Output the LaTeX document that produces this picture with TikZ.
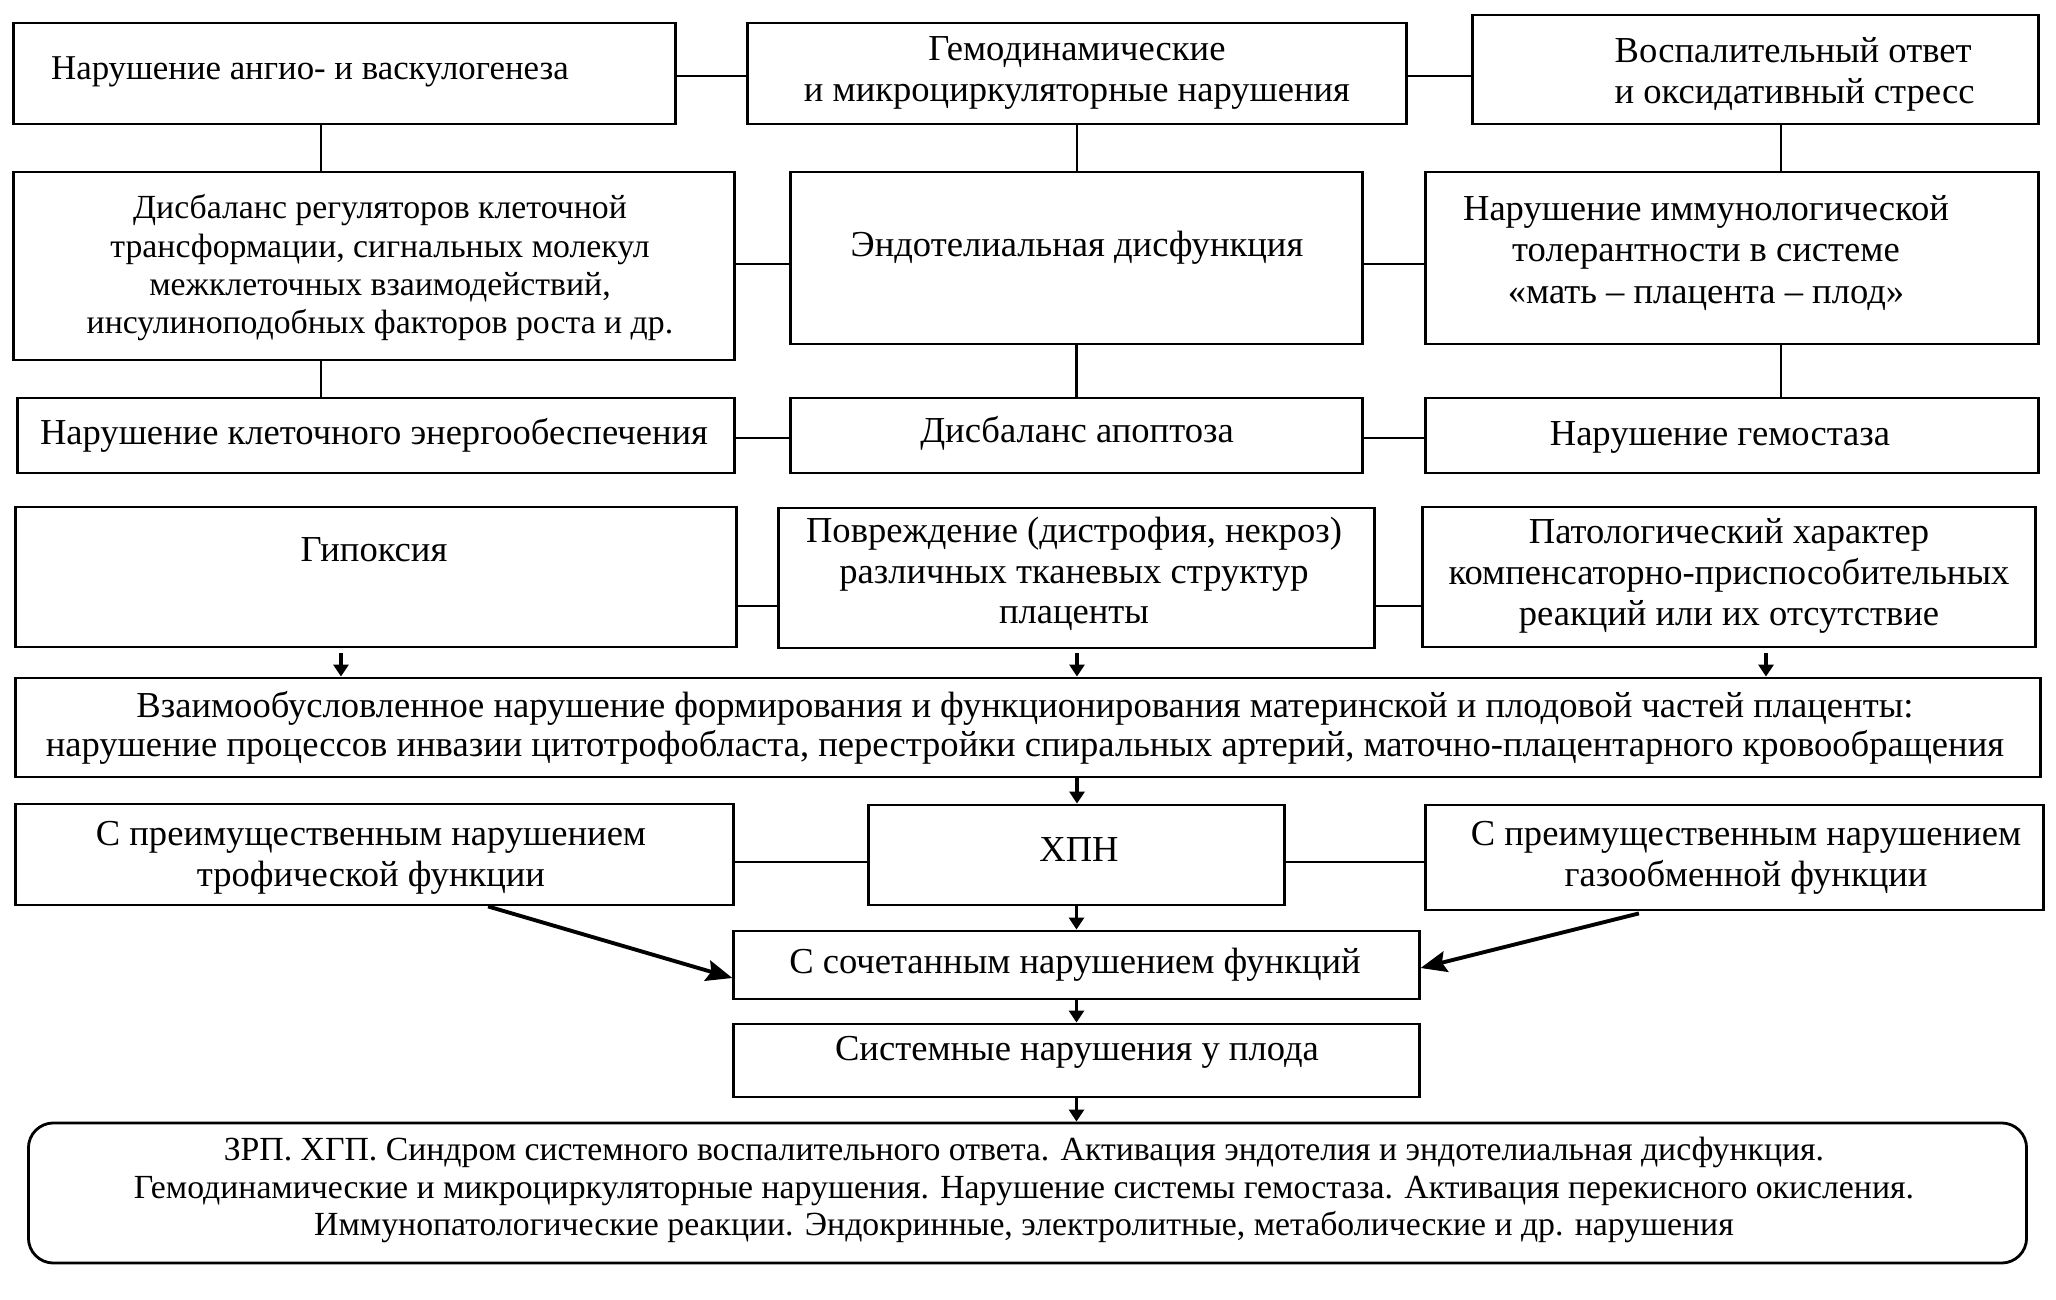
\documentclass[tikz,border=0pt]{standalone}
\usepackage{fontspec}
\setmainfont{Liberation Serif}
\usetikzlibrary{arrows.meta,calc}
\begin{document}
\begin{tikzpicture}[x=0.01cm,y=-0.01cm,
  box/.style={draw, line width=0.8pt, rectangle, inner sep=0pt},
  txt/.style={align=center, inner sep=0pt, font=\fontsize{10.4}{11.2}\selectfont},
  conn/.style={line width=0.8pt},
  arr/.style={line width=1.1pt, -{Triangle[length=0.12cm,width=0.15cm]}},
  bigarr/.style={line width=1.1pt, -{Stealth[length=0.26cm,width=0.21cm,inset=0.04cm]}}]
\useasboundingbox (0,0) rectangle (2056,1300);

% row 1
\node[box, minimum width=6.61cm, minimum height=1.01cm] (A) at (344.5,73.5) {};
\node[box, minimum width=6.58cm, minimum height=1.01cm] (B) at (1077,73.5) {};
\node[box, minimum width=5.65cm, minimum height=1.09cm] (C) at (1755.5,69.5) {};
\node[txt, font=\fontsize{9.9}{11.2}\selectfont] (At) at (310,72) {Нарушение ангио- и васкулогенеза};
\node[txt, font=\fontsize{10.4}{11.6}\selectfont] (Bt) at (1077,73) {Гемодинамические\\и микроциркуляторные нарушения};
\node[txt, align=left, anchor=west, font=\fontsize{10.4}{11.6}\selectfont] (Ct) at (1614,74) {Воспалительный ответ\\и оксидативный стресс};

% row 2
\node[box, minimum width=7.20cm, minimum height=1.88cm] (D) at (374,266) {};
\node[box, minimum width=5.71cm, minimum height=1.72cm] (E) at (1076.5,258) {};
\node[box, minimum width=6.12cm, minimum height=1.72cm] (F) at (1732,258) {};
\node[txt, font=\fontsize{9.6}{10.9}\selectfont] (Dt) at (380,268) {Дисбаланс регуляторов клеточной\\трансформации, сигнальных молекул\\межклеточных взаимодействий,\\инсулиноподобных факторов роста и др.};
\node[txt] (Et) at (1077,248) {Эндотелиальная дисфункция};
\node[txt, font=\fontsize{10.4}{11.8}\selectfont] (Ft) at (1706,253) {Нарушение иммунологической\\толерантности в системе\\«мать – плацента – плод»};

% row 3
\node[box, minimum width=7.16cm, minimum height=0.75cm] (G) at (376,435.5) {};
\node[box, minimum width=5.71cm, minimum height=0.75cm] (H) at (1076.5,435.5) {};
\node[box, minimum width=6.12cm, minimum height=0.75cm] (I) at (1732,435.5) {};
\node[txt] (Gt) at (374,435) {Нарушение клеточного энергообеспечения};
\node[txt] (Ht) at (1077,433) {Дисбаланс апоптоза};
\node[txt] (It) at (1720,437) {Нарушение гемостаза};

% row 4
\node[box, minimum width=7.20cm, minimum height=1.40cm] (J) at (376,577) {};
\node[box, minimum width=5.95cm, minimum height=1.40cm] (K) at (1076.5,578) {};
\node[box, minimum width=6.12cm, minimum height=1.40cm] (L) at (1729,577) {};
\node[txt] (Jt) at (374,550) {Гипоксия};
\node[txt, font=\fontsize{10.4}{11.6}\selectfont] (Kt) at (1074,574) {Повреждение (дистрофия, некроз)\\различных тканевых структур\\плаценты};
\node[txt, font=\fontsize{10.4}{11.6}\selectfont] (Lt) at (1729,576) {Патологический характер\\компенсаторно-приспособительных\\реакций или их отсутствие};

% row 5
\node[box, minimum width=20.24cm, minimum height=0.99cm] (M) at (1028,727.5) {};
\node[txt, font=\fontsize{10.4}{10.9}\selectfont] (Mt) at (1025,728) {Взаимообусловленное нарушение формирования и функционирования материнской и плодовой частей плаценты:\\нарушение процессов инвазии цитотрофобласта, перестройки спиральных артерий, маточно-плацентарного кровообращения};

% row 6
\node[box, minimum width=7.17cm, minimum height=1.01cm] (N1) at (374.5,854.5) {};
\node[box, minimum width=4.15cm, minimum height=1.00cm] (N) at (1076.5,855) {};
\node[box, minimum width=6.17cm, minimum height=1.05cm] (N2) at (1734.5,857.5) {};
\node[txt, font=\fontsize{10.4}{11.6}\selectfont] (N1t) at (371,858) {С преимущественным нарушением\\трофической функции};
\node[txt] (Nt) at (1079,850) {ХПН};
\node[txt, font=\fontsize{10.4}{11.6}\selectfont] (N2t) at (1746,858) {С преимущественным нарушением\\газообменной функции};

% lower chain
\node[box, minimum width=6.85cm, minimum height=0.68cm] (P) at (1076.5,965) {};
\node[txt] (Pt) at (1075,965) {С сочетанным нарушением функций};
\node[box, minimum width=6.85cm, minimum height=0.73cm] (Q) at (1076.5,1060.5) {};
\node[txt] (Qt) at (1077,1052) {Системные нарушения у плода};
\node[box, rounded corners=0.25cm, minimum width=19.97cm, minimum height=1.40cm] (R) at (1027.5,1193) {};
\node[txt, font=\fontsize{9.6}{10.6}\selectfont] (Rt) at (1024,1190) {ЗРП. ХГП. Синдром системного воспалительного ответа. Активация эндотелия и эндотелиальная дисфункция.\\Гемодинамические и микроциркуляторные нарушения. Нарушение системы гемостаза. Активация перекисного окисления.\\Иммунопатологические реакции. Эндокринные, электролитные, метаболические и др. нарушения};

% horizontal connectors
\draw[conn] ([yshift=-0.025cm]A.east) -- ([yshift=-0.025cm]A.east -| B.west);
\draw[conn] ([yshift=-0.025cm]B.east) -- ([yshift=-0.025cm]B.east -| C.west);
\draw[conn] ([yshift=0.02cm]D.east) -- ([yshift=0.02cm]D.east -| E.west);
\draw[conn] ([yshift=-0.06cm]E.east) -- ([yshift=-0.06cm]E.east -| F.west);
\draw[conn] ([yshift=-0.025cm]G.east) -- ([yshift=-0.025cm]G.east -| H.west);
\draw[conn] ([yshift=-0.025cm]H.east) -- ([yshift=-0.025cm]H.east -| I.west);
\draw[conn] ([yshift=-0.29cm]J.east) -- ([yshift=-0.29cm]J.east -| K.west);
\draw[conn] ([yshift=-0.28cm]K.east) -- ([yshift=-0.28cm]K.east -| L.west);
\draw[conn] ([yshift=-0.075cm]N1.east) -- ([yshift=-0.075cm]N1.east -| N.west);
\draw[conn] ([yshift=-0.07cm]N.east) -- ([yshift=-0.07cm]N.east -| N2.west);

% vertical connectors
\coordinate (a1) at ([xshift=-0.235cm]A.south);
\draw[conn] (a1) -- (a1 |- D.north);
\draw[conn] (B.south) -- (B.south |- E.north);
\coordinate (c1) at ([xshift=0.255cm]C.south);
\draw[conn] (c1) -- (c1 |- F.north);
\coordinate (d1) at ([xshift=-0.53cm]D.south);
\draw[conn] (d1) -- (d1 |- G.north);
\draw[conn] (E.south) -- (E.south |- H.north);
\coordinate (f1) at ([xshift=0.49cm]F.south);
\draw[conn] (f1) -- (f1 |- I.north);

% arrows
\coordinate (j1) at ([xshift=-0.35cm,yshift=-0.05cm]J.south);
\draw[arr] (j1) -- (j1 |- M.north);
\coordinate (k1) at ([xshift=0.005cm,yshift=-0.04cm]K.south);
\draw[arr] (k1) -- (k1 |- M.north);
\coordinate (l1) at ([xshift=0.37cm,yshift=-0.05cm]L.south);
\draw[arr] (l1) -- (l1 |- M.north);
\coordinate (m1) at ([xshift=0.49cm]M.south);
\draw[arr] (m1) -- (m1 |- N.north);
\draw[arr] (N.south) -- (N.south |- P.north);
\draw[arr] (P.south) -- (P.south |- Q.north);
\draw[arr] (Q.south) -- (Q.south |- R.north);
\draw[bigarr] ([xshift=1.135cm]N1.south) -- ([yshift=-0.13cm]P.west);
\draw[bigarr] ([xshift=-0.955cm,yshift=-0.02cm]N2.south) -- ([yshift=-0.03cm]P.east);
\end{tikzpicture}
\end{document}
